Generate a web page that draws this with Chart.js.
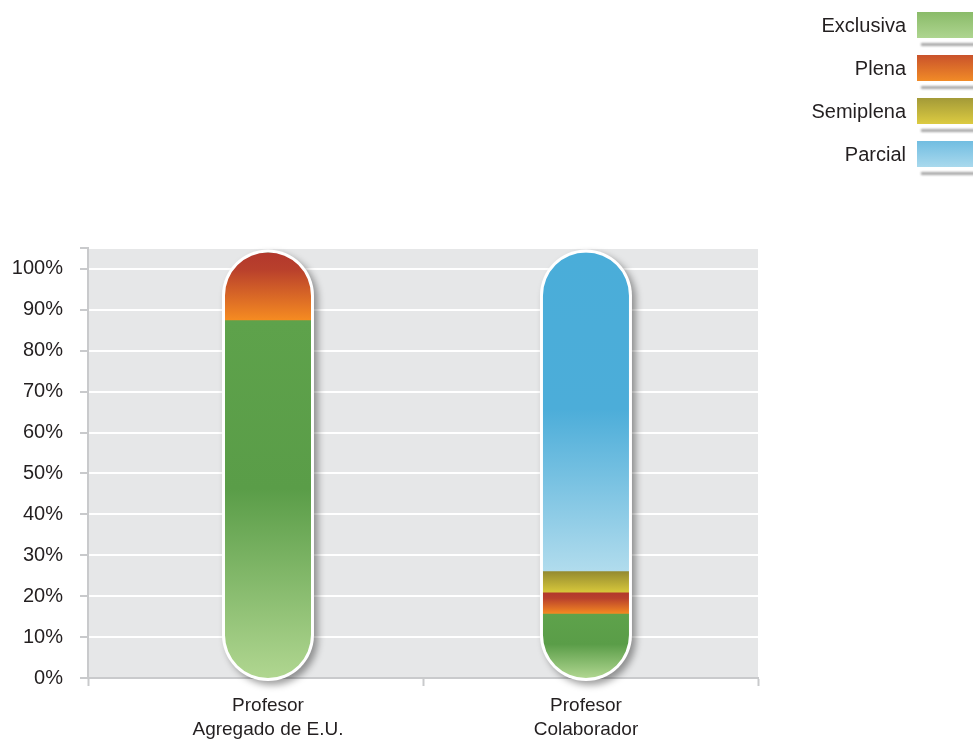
<!DOCTYPE html>
<html>
<head>
<meta charset="utf-8">
<script src="https://cdn.jsdelivr.net/npm/chart.js@4.4.1/dist/chart.umd.min.js"></script>
<style>
  html, body { margin: 0; padding: 0; background: #ffffff; }
  #wrap { width: 973px; height: 741px; }
</style>
</head>
<body>
<div id="wrap"><canvas id="chart" width="973" height="741"></canvas></div>
<script>
// chart values
const categories = [['Profesor', 'Agregado de E.U.'], ['Profesor', 'Colaborador']];
const seriesNames = ['Exclusiva', 'Plena', 'Semiplena', 'Parcial'];
const exclusiva = [84, 15];
const plena = [16, 5];
const semiplena = [0, 5];
const parcial = [0, 75];
const yTicks = [0, 10, 20, 30, 40, 50, 60, 70, 80, 90, 100];

const series = [exclusiva, plena, semiplena, parcial];

// gradient stops per series (top -> bottom of each segment)
const barGradients = [
    [[0, '#5ea24b'], [0.47, '#5a9d48'], [1, '#b0d690']],
    [[0, '#b2382d'], [0.25, '#b9402c'], [1, '#f68c21']],
    [[0, '#958b30'], [1, '#d9c93b']],
    [[0, '#4aadd9'], [0.49, '#4cadd9'], [1, '#b1dced']]
];
const legendGradients = [
    ['#8abb69', '#aed590'],
    ['#c9522b', '#f18b27'],
    ['#a39a38', '#dccb41'],
    ['#71bde1', '#a9d9ed']
];

const FONT = "'Liberation Sans', Arial, sans-serif";
const TEXT = '#231f20';
const AXIS_GRAY = '#c9cacc';
const BAR_HALF = 43;

function segmentFill(ctx) {
    const chart = ctx.chart;
    const yb = chart.scales.yb;
    const ds = ctx.datasetIndex;
    const i = ctx.dataIndex;
    const stops = barGradients[ds];
    if (!chart.chartArea || !yb) return stops[0][1];
    let start = 0;
    for (let k = 0; k < ds; k++) start += series[k][i];
    const end = start + series[ds][i];
    const top = yb.getPixelForValue(end);
    const bottom = yb.getPixelForValue(start);
    if (!(bottom - top > 0.5)) return stops[0][1];
    const g = chart.ctx.createLinearGradient(0, top, 0, bottom);
    stops.forEach(s => g.addColorStop(s[0], s[1]));
    return g;
}

function capsulePath(ctx, cx, top, bottom, r) {
    ctx.moveTo(cx - r, top + r);
    ctx.arc(cx, top + r, r, Math.PI, 0);
    ctx.lineTo(cx + r, bottom - r);
    ctx.arc(cx, bottom - r, r, 0, Math.PI);
    ctx.closePath();
}

// plot background, capsule shells with shadow, clip bars into capsules
const capsulePlugin = {
    id: 'capsules',
    beforeDraw(chart) {
        const { ctx, chartArea } = chart;
        ctx.save();
        ctx.fillStyle = '#e6e7e8';
        ctx.fillRect(chartArea.left, chartArea.top, chartArea.right - chartArea.left, chartArea.bottom - chartArea.top);
        ctx.restore();
    },
    beforeDatasetsDraw(chart) {
        const { ctx } = chart;
        const xb = chart.scales.xb, yb = chart.scales.yb;
        const top = yb.getPixelForValue(100);
        const bottom = yb.getPixelForValue(0);
        categories.forEach((c, i) => {
            const cx = xb.getPixelForValue(i);
            ctx.save();
            ctx.shadowColor = 'rgba(0,0,0,0.38)';
            ctx.shadowBlur = 7;
            ctx.shadowOffsetX = 4;
            ctx.shadowOffsetY = 4;
            ctx.fillStyle = '#ffffff';
            ctx.beginPath();
            capsulePath(ctx, cx, top - 3, bottom + 3, BAR_HALF + 3);
            ctx.fill();
            ctx.restore();
        });
        ctx.save();
        ctx.beginPath();
        categories.forEach((c, i) => {
            capsulePath(ctx, xb.getPixelForValue(i), top, bottom, BAR_HALF);
        });
        ctx.clip();
    },
    afterDatasetsDraw(chart) {
        chart.ctx.restore();
    }
};

// legend on the upper right: label, gradient swatch, soft shadow line
const legendPlugin = {
    id: 'sideLegend',
    afterDraw(chart) {
        const ctx = chart.ctx;
        ctx.save();
        seriesNames.forEach((name, i) => {
            const y = 12 + i * 43;
            const g = ctx.createLinearGradient(0, y, 0, y + 26);
            g.addColorStop(0, legendGradients[i][0]);
            g.addColorStop(1, legendGradients[i][1]);
            ctx.fillStyle = g;
            ctx.fillRect(917, y, 60, 26);

            ctx.save();
            ctx.filter = 'blur(1px)';
            ctx.fillStyle = 'rgba(110,110,110,0.6)';
            ctx.fillRect(921, y + 31, 60, 3);
            ctx.restore();

            ctx.fillStyle = TEXT;
            ctx.font = '20px ' + FONT;
            ctx.textAlign = 'right';
            ctx.textBaseline = 'middle';
            ctx.fillText(name, 906, y + 14);
        });
        ctx.restore();
    }
};

new Chart(document.getElementById('chart').getContext('2d'), {
    type: 'bar',
    data: {
        labels: categories,
        datasets: series.map((vals, k) => ({
            label: seriesNames[k],
            data: vals.map((v, i) => ({ x: i, y: v })),
            backgroundColor: segmentFill,
            borderWidth: 0,
            borderSkipped: false,
            barThickness: BAR_HALF * 2 + 2,
            xAxisID: 'xb',
            yAxisID: 'yb',
            clip: false
        }))
    },
    options: {
        responsive: false,
        animation: false,
        layout: { padding: { top: 248, right: 215, left: 0, bottom: 0 } },
        plugins: {
            legend: { display: false },
            tooltip: { enabled: false }
        },
        scales: {
            x: {
                type: 'category',
                position: 'bottom',
                weight: 0,
                offset: true,
                ticks: { display: false },
                grid: {
                    offset: true,
                    drawOnChartArea: false,
                    tickLength: 8,
                    tickWidth: 2,
                    tickColor: AXIS_GRAY,
                    color: AXIS_GRAY
                },
                border: { color: AXIS_GRAY, width: 2 },
                afterFit(scale) { scale.height = 8; }
            },
            xb: {
                type: 'linear',
                position: 'bottom',
                weight: 1,
                stacked: true,
                offset: false,
                min: -0.566,
                max: 1.541,
                afterBuildTicks(scale) {
                    scale.ticks = categories.map((c, i) => ({ value: i }));
                },
                ticks: {
                    color: TEXT,
                    padding: 0,
                    maxRotation: 0,
                    font: { family: FONT, size: 19, lineHeight: 1.27 },
                    callback: (v) => categories[v]
                },
                grid: { display: false },
                border: { display: false },
                afterFit(scale) { scale.height = 55; }
            },
            y: {
                type: 'linear',
                position: 'left',
                min: 0,
                max: 105.13,
                afterBuildTicks(scale) {
                    scale.ticks = yTicks.map(v => ({ value: v })).concat([{ value: scale.max }]);
                },
                ticks: {
                    color: TEXT,
                    padding: 17,
                    font: { family: FONT, size: 20 },
                    callback: (v) => yTicks.includes(v) ? v + '%' : ''
                },
                grid: {
                    color: (c) => (c.tick && c.tick.value === 0) ? AXIS_GRAY : '#ffffff',
                    lineWidth: 2,
                    tickLength: 8,
                    tickWidth: 2,
                    tickColor: AXIS_GRAY
                },
                border: { color: AXIS_GRAY, width: 2 },
                afterFit(scale) { scale.width = 88; }
            },
            yb: {
                type: 'linear',
                display: false,
                stacked: true,
                min: 0,
                max: 101.06
            }
        }
    },
    plugins: [capsulePlugin, legendPlugin]
});
</script>
</body>
</html>
